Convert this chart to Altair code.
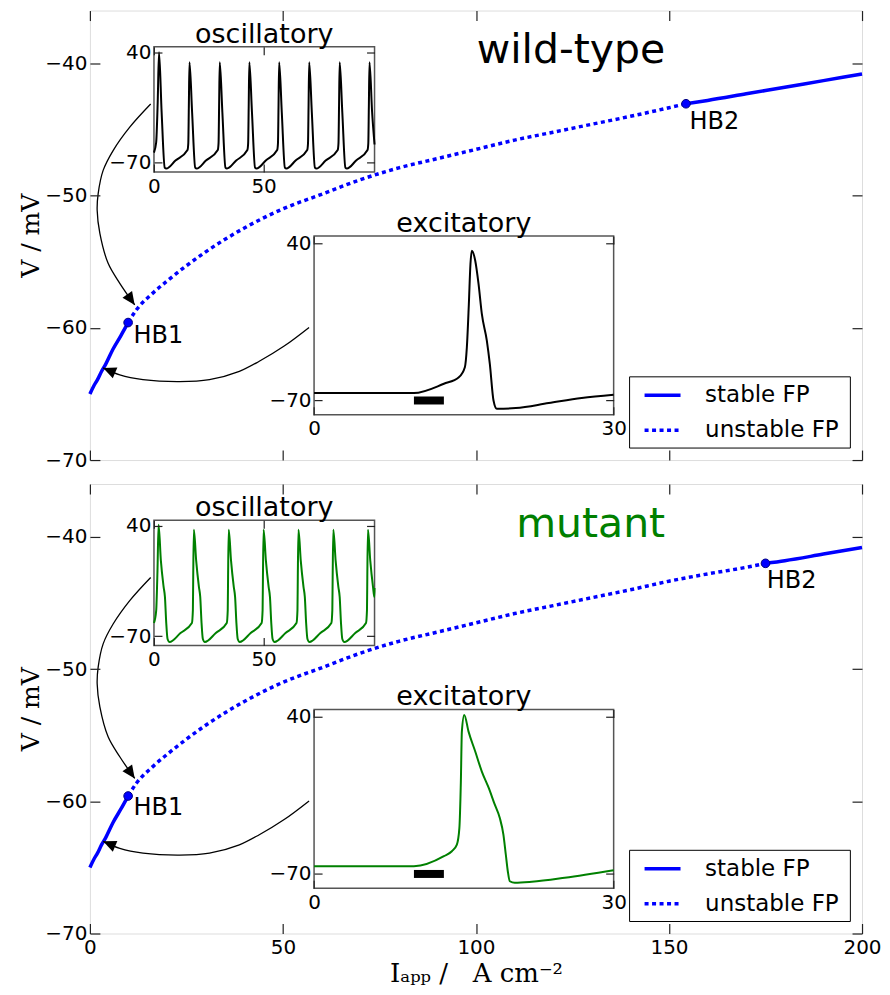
import altair as alt
import pandas as pd

# ---------------- data ----------------
# fixed-point branch V(I_app)
I_curve = [0, 1, 2, 3, 4, 6, 8, 12, 16, 20, 25, 30, 40, 50, 60, 70, 80, 90, 100,
           110, 120, 130, 140, 150, 160, 170, 180, 190, 200]
V_curve = [-65.0, -64.4, -63.9, -63.3, -62.8, -61.6, -60.6, -58.65, -57.45, -56.45,
           -55.3, -54.25, -52.45, -51.0, -49.9, -48.8, -47.9, -47.2, -46.5, -45.8,
           -45.2, -44.6, -44.0, -43.35, -42.8, -42.3, -41.8, -41.3, -40.8]

hb_names = ["HB1", "HB2"]
hb_I_wt = [9.9, 154.4]
hb_V_wt = [-59.6, -43.05]
hb_I_mut = [9.9, 175.0]
hb_V_mut = [-59.6, -42.0]
hb_lab_I_wt = [11.3, 155.3]
hb_lab_V_wt = [-61.15, -44.95]
hb_lab_I_mut = [11.3, 175.3]
hb_lab_V_mut = [-61.0, -43.9]

# curved annotation arrows (in I_app / V coordinates)
arrow1_I = [15.74, 10.32, 6.01, 3.43, 2.14, 1.88, 2.58, 4.72, 7.74, 11.61]
arrow1_V = [-43.07, -44.82, -46.59, -48.09, -49.85, -51.11, -52.86, -55.12, -56.63, -58.27]
arrow2_I = [56.77, 50.32, 43.87, 38.71, 30.97, 23.23, 13.75, 7.74, 3.43]
arrow2_V = [-59.97, -61.38, -62.53, -63.29, -63.92, -64.07, -63.92, -63.56, -63.03]
head_I = [11.61, 3.43]
head_V = [-58.27, -63.03]
head_angle = [145, 293]

# oscillatory traces (t in ms, V in mV)
osc_wt_start_t = [0.0, 1.0, 1.7]
osc_wt_start_v = [-60.0, -50.0, -10.0]
osc_wt_peak_t = [2.3, 16.2, 30.0, 43.5, 57.1, 70.8, 84.7, 98.3]
osc_wt_peak_v = [40, 30, 30, 30, 30, 30, 30, 30]
osc_wt_dt = [-0.9, -0.55, -0.3, 0.0, 1.2, 2.6, 3.3, 7.5]
osc_wt_dv = [-57.5, -51.0, -15.0, None, -20.0, -75.0, -76.0, -68.0]
osc_wt_end = (100.6, -52.0)

osc_mut_start_t = [0.0, 1.0, 1.6]
osc_mut_start_v = [-57.0, -45.0, -5.0]
osc_mut_peak_t = [2.1, 18.2, 34.1, 50.0, 65.9, 81.8, 97.6]
osc_mut_peak_v = [41, 36, 36, 36, 36, 36, 36]
osc_mut_dt = [-0.9, -0.45, -0.3, 0.0, 1.06, 2.3, 2.9, 3.5, 4.1, 5.0, 10.0]
osc_mut_dv = [-57.0, -44.0, -11.0, None, 5.0, -21.0, -31.0, -57.0, -73.0, -76.0, -67.0]
osc_mut_end = (100.6, -22.0)

# excitatory traces
exc_wt_t = [0, 10, 13, 14.5, 15.1, 15.3, 15.5, 15.66, 15.8, 16.14, 16.47, 16.8,
            17.3, 17.6, 17.97, 18.3, 20.2, 23.5, 26.8, 30]
exc_wt_v = [-64.8, -64.8, -58.3, -53.7, -46.7, -32.8, -2.5, 25.4, 34.7, 27.7,
            11.5, -9.5, -28.1, -44.4, -70.0, -75.8, -75.3, -71.8, -68.3, -66.0]
exc_mut_t = [0, 10, 13, 13.8, 14.3, 14.55, 14.7, 14.8, 15.04, 15.47, 16.14, 16.8,
             17.5, 18.1, 18.6, 18.96, 19.2, 19.4, 19.6, 20.1, 21.8, 25.1, 30]
exc_mut_v = [-64.6, -64.6, -57.6, -54.1, -49.5, -38.0, -5.3, 29.5, 41.2, 29.5,
             15.6, 1.6, -10.0, -21.6, -30.9, -42.5, -56.4, -68.1, -75.1, -76.2,
             -75.5, -72.7, -67.4]
stim_t = [10, 13]
stim_v = -70

# ---------------- layout constants (pixels inside a panel) ----------------
W, H = 773, 450
SX = W / 775.0
SY = H / 450.0
OSC_BOX = (64.3 * SX, 285.7 * SX, 36.3 * SY, 161.7 * SY)   # left, right, top, bottom
EXC_BOX = (225.0 * SX, 525.7 * SX, 225.7 * SY, 404.7 * SY)
LEG = (541.7 * SX, 763.3 * SX, 366.7 * SY, 438 * SY)
OSC_DOM = ([0, 100.6], [-79.5, 45.5])
EXC_DOM = ([0, 30], [-80, 45])
MAIN_TICK = 10
INSET_TICK = 8
BLUE = "#0000ff"
GREEN = "#008000"
FRAME = "#555555"
NB = "\u00a0"


def sc(domain, rng=None):
    if rng is None:
        return alt.Scale(domain=domain, nice=False, zero=False)
    return alt.Scale(domain=domain, range=rng, nice=False, zero=False)


def ax(orient, values, tick, edge, labels=True, title=None, lp=3, **kw):
    if orient == "bottom":
        off = edge - tick - H
    elif orient == "right":
        off = edge - tick - W
    else:
        off = -(edge + tick)
    args = dict(orient=orient, values=values, tickSize=tick, offset=off,
                labels=labels, grid=False, domain=False, labelFlush=False,
                labelOverlap=False, zindex=1, tickColor="#222222", tickWidth=1.2,
                labelFontSize=20, labelFont="DejaVu Sans", labelColor="black",
                labelPadding=lp)
    args["title"] = title
    args.update(kw)
    return alt.Axis(**args)


def osc_trace(start_t, start_v, peaks_t, peaks_v, dt, dv, end):
    t = list(start_t)
    v = list(start_v)
    for k, (pt, pv) in enumerate(zip(peaks_t, peaks_v)):
        for d, val in zip(dt, dv):
            if k == 0 and d < 0:
                continue
            tt = pt + d
            if tt >= end[0]:
                continue
            t.append(round(tt, 3))
            v.append(pv if val is None else val)
    t.append(end[0])
    v.append(end[1])
    return pd.DataFrame({"t": t, "V": v})


def curve_df(hbI, hbV):
    pts = [(i, v) for i, v in zip(I_curve, V_curve) if all(abs(i - h) > 0.5 for h in hbI)]
    pts += list(zip(hbI, hbV))
    pts.sort()
    rows = []
    for i, v in pts:
        if i <= hbI[0]:
            rows.append(dict(I=i, V=v, seg="a", kind="stable"))
        if hbI[0] <= i <= hbI[1]:
            rows.append(dict(I=i, V=v, seg="u", kind="unstable"))
        if i >= hbI[1]:
            rows.append(dict(I=i, V=v, seg="b", kind="stable"))
    return pd.DataFrame(rows)


one = pd.DataFrame({"a": [0]})


def panel(tag):
    mut = tag == "mut"
    hbI, hbV = (hb_I_mut, hb_V_mut) if mut else (hb_I_wt, hb_V_wt)
    labI, labV = (hb_lab_I_mut, hb_lab_V_mut) if mut else (hb_lab_I_wt, hb_lab_V_wt)
    trace_col = GREEN if mut else "black"
    cdf = curve_df(hbI, hbV)
    xs = sc([0, 200])
    ys = sc([-70, -36])

    x_title = ("Iₐₚₚ /" + NB * 3 + "A" + NB + "cm⁻²") if mut else None
    stable = alt.Chart(cdf[cdf.kind == "stable"]).mark_line(
        color=BLUE, strokeWidth=3.5, interpolate="monotone").encode(
        x=alt.X("I:Q", scale=xs, axis=ax("bottom", [0, 50, 100, 150, 200], MAIN_TICK, H,
                                           labels=mut, title=x_title, lp=4,
                                           titleFont="DejaVu Serif", titleFontSize=26,
                                           titleFontWeight="normal", titlePadding=3,
                                           titleColor="black")),
        y=alt.Y("V:Q", scale=ys, axis=ax("left", [-70, -60, -50, -40], MAIN_TICK, 0,
                                           title="V / mV", titleFont="DejaVu Serif",
                                           titleFontSize=25, titleFontWeight="normal",
                                           titlePadding=1, titleColor="black")),
        detail="seg:N")
    unstable = alt.Chart(cdf[cdf.kind == "unstable"]).mark_line(
        color=BLUE, strokeWidth=3.5, strokeDash=[4, 3.5], interpolate="monotone").encode(
        x=alt.X("I:Q", scale=xs, axis=ax("top", [0, 50, 100, 150, 200], MAIN_TICK, 0, labels=False)),
        y=alt.Y("V:Q", scale=ys, axis=ax("right", [-70, -60, -50, -40], MAIN_TICK, W, labels=False)),
        detail="seg:N")

    hb_df = pd.DataFrame({"I": hbI, "V": hbV, "name": hb_names, "lI": labI, "lV": labV})
    hb_pts = alt.Chart(hb_df).mark_circle(size=75, color=BLUE, opacity=1,
                                          stroke="#000080", strokeWidth=1).encode(
        x=alt.X("I:Q", scale=xs, axis=None), y=alt.Y("V:Q", scale=ys, axis=None))
    hb_txt = alt.Chart(hb_df).mark_text(align="left", baseline="alphabetic", fontSize=24,
                                        font="DejaVu Sans", color="black").encode(
        x=alt.X("lI:Q", scale=xs, axis=None), y=alt.Y("lV:Q", scale=ys, axis=None),
        text="name:N")

    name_df = pd.DataFrame({"I": [149.0], "V": [-40.0],
                            "txt": ["mutant" if mut else "wild-type"]})
    name_txt = alt.Chart(name_df).mark_text(align="right", baseline="alphabetic", fontSize=41,
                                            font="DejaVu Sans",
                                            color=GREEN if mut else "black").encode(
        x=alt.X("I:Q", scale=xs, axis=None), y=alt.Y("V:Q", scale=ys, axis=None),
        text="txt:N")

    arr_rows = [dict(arrow="a1", k=k, I=i, V=v) for k, (i, v) in enumerate(zip(arrow1_I, arrow1_V))]
    arr_rows += [dict(arrow="a2", k=k, I=i, V=v) for k, (i, v) in enumerate(zip(arrow2_I, arrow2_V))]
    arrows = alt.Chart(pd.DataFrame(arr_rows)).mark_line(
        color="black", strokeWidth=1.3, interpolate="catmull-rom").encode(
        x=alt.X("I:Q", scale=xs, axis=None), y=alt.Y("V:Q", scale=ys, axis=None),
        detail="arrow:N", order="k:Q")
    heads = alt.Chart(pd.DataFrame({"I": head_I, "V": head_V, "ang": head_angle})).mark_point(
        shape="M0,0 L-0.45,1 L0.45,1 Z", filled=True, size=676, color="black", opacity=1).encode(
        x=alt.X("I:Q", scale=xs, axis=None), y=alt.Y("V:Q", scale=ys, axis=None),
        angle=alt.Angle("ang:Q", scale=None))

    # ---- oscillatory inset ----
    oxs = sc(OSC_DOM[0], [OSC_BOX[0], OSC_BOX[1]])
    oys = sc(OSC_DOM[1], [OSC_BOX[3], OSC_BOX[2]])
    ofr = pd.DataFrame({"x0": [OSC_DOM[0][0]], "x1": [OSC_DOM[0][1]],
                        "y0": [OSC_DOM[1][0]], "y1": [OSC_DOM[1][1]]})
    osc_frame = alt.Chart(ofr).mark_rect(fill="white", stroke=FRAME, strokeWidth=1.5).encode(
        x=alt.X("x0:Q", scale=oxs, axis=ax("top", [0, 50], INSET_TICK, OSC_BOX[2], labels=False)),
        x2="x1:Q",
        y=alt.Y("y0:Q", scale=oys, axis=ax("right", [-70, 40], INSET_TICK, OSC_BOX[1], labels=False)),
        y2="y1:Q")
    if mut:
        odf = osc_trace(osc_mut_start_t, osc_mut_start_v, osc_mut_peak_t, osc_mut_peak_v,
                        osc_mut_dt, osc_mut_dv, osc_mut_end)
    else:
        odf = osc_trace(osc_wt_start_t, osc_wt_start_v, osc_wt_peak_t, osc_wt_peak_v,
                        osc_wt_dt, osc_wt_dv, osc_wt_end)
    osc_line = alt.Chart(odf).mark_line(color=trace_col, strokeWidth=2, interpolate="monotone").encode(
        x=alt.X("t:Q", scale=oxs, axis=ax("bottom", [0, 50], INSET_TICK, OSC_BOX[3], lp=4)),
        y=alt.Y("V:Q", scale=oys, axis=ax("left", [-70, 40], INSET_TICK, OSC_BOX[0])))

    # ---- excitatory inset ----
    exs = sc(EXC_DOM[0], [EXC_BOX[0], EXC_BOX[1]])
    eys = sc(EXC_DOM[1], [EXC_BOX[3], EXC_BOX[2]])
    efr = pd.DataFrame({"x0": [EXC_DOM[0][0]], "x1": [EXC_DOM[0][1]],
                        "y0": [EXC_DOM[1][0]], "y1": [EXC_DOM[1][1]]})
    exc_frame = alt.Chart(efr).mark_rect(fill="white", stroke=FRAME, strokeWidth=1.5).encode(
        x=alt.X("x0:Q", scale=exs, axis=ax("top", [0, 30], INSET_TICK, EXC_BOX[2], labels=False)),
        x2="x1:Q",
        y=alt.Y("y0:Q", scale=eys, axis=ax("right", [-70, 40], INSET_TICK, EXC_BOX[1], labels=False)),
        y2="y1:Q")
    edf = pd.DataFrame({"t": exc_mut_t, "V": exc_mut_v}) if mut else \
        pd.DataFrame({"t": exc_wt_t, "V": exc_wt_v})
    exc_line = alt.Chart(edf).mark_line(color=trace_col, strokeWidth=2, interpolate="monotone").encode(
        x=alt.X("t:Q", scale=exs, axis=ax("bottom", [0, 30], INSET_TICK, EXC_BOX[3], lp=4)),
        y=alt.Y("V:Q", scale=eys, axis=ax("left", [-70, 40], INSET_TICK, EXC_BOX[0])))
    stim = alt.Chart(pd.DataFrame({"t0": [stim_t[0]], "t1": [stim_t[1]], "V": [stim_v]})).mark_rule(
        color="black", strokeWidth=8, strokeCap="butt").encode(
        x=alt.X("t0:Q", scale=exs, axis=None), x2="t1:Q",
        y=alt.Y("V:Q", scale=eys, axis=None))

    osc_title = alt.Chart(one).mark_text(text="oscillatory", fontSize=27, font="DejaVu Sans",
                                         align="center", baseline="alphabetic", color="black").encode(
        x=alt.value((OSC_BOX[0] + OSC_BOX[1]) / 2), y=alt.value(OSC_BOX[2] - 4))
    exc_title = alt.Chart(one).mark_text(text="excitatory", fontSize=27, font="DejaVu Sans",
                                         align="center", baseline="alphabetic", color="black").encode(
        x=alt.value((EXC_BOX[0] + EXC_BOX[1]) / 2), y=alt.value(EXC_BOX[2] - 4))

    # ---- legend ----
    ly1 = LEG[2] + 0.26 * (LEG[3] - LEG[2])
    ly2 = LEG[2] + 0.75 * (LEG[3] - LEG[2])
    lx0 = LEG[0] + 15
    leg_box = alt.Chart(one).mark_rect(fill="white", stroke="black", strokeWidth=1).encode(
        x=alt.value(LEG[0]), x2=alt.value(LEG[1]), y=alt.value(LEG[2]), y2=alt.value(LEG[3]))
    leg_l1 = alt.Chart(one).mark_rule(color=BLUE, strokeWidth=3.5).encode(
        x=alt.value(lx0), x2=alt.value(lx0 + 36), y=alt.value(ly1))
    leg_l2 = alt.Chart(one).mark_rule(color=BLUE, strokeWidth=3.5, strokeDash=[4, 3.5]).encode(
        x=alt.value(lx0), x2=alt.value(lx0 + 36), y=alt.value(ly2))
    leg_t1 = alt.Chart(one).mark_text(text="stable FP", fontSize=23, font="DejaVu Sans",
                                      align="left", baseline="middle", color="black").encode(
        x=alt.value(lx0 + 60.6), y=alt.value(ly1))
    leg_t2 = alt.Chart(one).mark_text(text="unstable FP", fontSize=23, font="DejaVu Sans",
                                      align="left", baseline="middle", color="black").encode(
        x=alt.value(lx0 + 60.6), y=alt.value(ly2))

    layers = [stable, unstable, arrows, heads, hb_pts, hb_txt, name_txt,
              osc_frame, osc_line, osc_title,
              exc_frame, exc_line, stim, exc_title,
              leg_box, leg_l1, leg_l2, leg_t1, leg_t2]
    return alt.layer(*layers).resolve_scale(x="independent", y="independent").properties(
        width=W, height=H)


chart = alt.vconcat(panel("wt"), panel("mut"), spacing=11).properties(
    padding={"left": 10, "top": 0, "right": 0, "bottom": 0}
).configure_view(stroke=FRAME, strokeWidth=1.5).configure(font="DejaVu Sans")

chart.save("out.html", embed_options={"renderer": "svg", "actions": False})
